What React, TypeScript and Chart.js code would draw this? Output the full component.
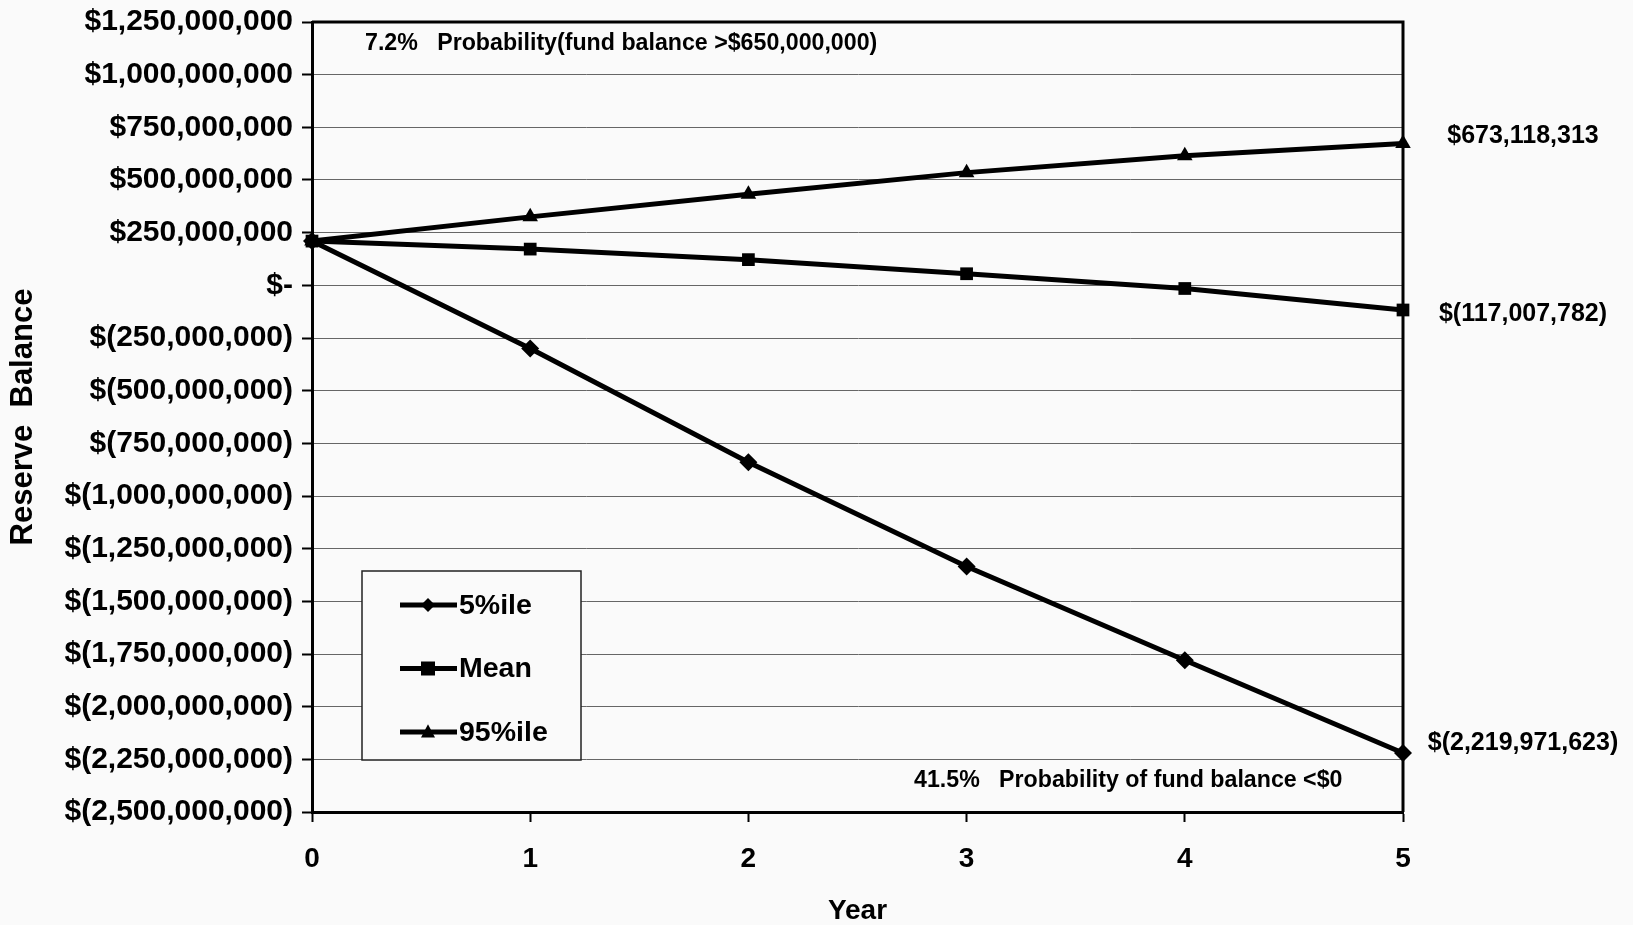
import React, { useEffect, useRef } from "react";
import { Chart, registerables } from "chart.js";

Chart.register(...registerables);

const years = [0, 1, 2, 3, 4, 5];
const p5Values = [210e6, -300e6, -840e6, -1335e6, -1780e6, -2219971623];
const meanValues = [210e6, 172e6, 122e6, 55e6, -15e6, -117007782];
const p95Values = [210e6, 325e6, 432e6, 535e6, 615e6, 673118313];
const seriesNames = ["5%ile", "Mean", "95%ile"];
const topNote = "7.2%   Probability(fund balance >$650,000,000)";
const bottomNote = "41.5%   Probability of fund balance <$0";
const yTitle = "Reserve  Balance";
const xTitle = "Year";

const FONT = "'Liberation Sans', Arial, sans-serif";

function fmt(v: number): string {
  if (Math.abs(v) < 1) return "$-";
  const s = Math.abs(Math.round(v)).toLocaleString("en-US");
  return v < 0 ? `$(${s})` : `$${s}`;
}

const styles = ["rectRot", "rect", "triangle"];

function drawMarker(ctx: CanvasRenderingContext2D, style: string, x: number, y: number, r: number) {
  ctx.beginPath();
  if (style === "rectRot") {
    ctx.moveTo(x, y - r);
    ctx.lineTo(x + r, y);
    ctx.lineTo(x, y + r);
    ctx.lineTo(x - r, y);
  } else if (style === "rect") {
    ctx.rect(x - r, y - r, 2 * r, 2 * r);
  } else {
    ctx.moveTo(x, y - r * 1.1);
    ctx.lineTo(x + r, y + r * 0.8);
    ctx.lineTo(x - r, y + r * 0.8);
  }
  ctx.closePath();
  ctx.fill();
}

const decorPlugin = {
  id: "decor",
  afterDraw(chart: any) {
    const { ctx, chartArea } = chart;
    const { left, right, top, bottom } = chartArea;
    ctx.save();
    // top & right frame
    ctx.strokeStyle = "#000";
    ctx.lineWidth = 3;
    ctx.beginPath();
    ctx.moveTo(left, top);
    ctx.lineTo(right, top);
    ctx.lineTo(right, bottom);
    ctx.stroke();

    // notes
    ctx.fillStyle = "#000";
    ctx.textBaseline = "middle";
    ctx.textAlign = "left";
    ctx.font = `bold 23.2px ${FONT}`;
    ctx.fillText(topNote, left + 53, top + 22);
    ctx.fillText(bottomNote, left + 602, bottom - 31);

    // end labels
    ctx.font = `bold 25px ${FONT}`;
    ctx.textAlign = "center";
    const offsets = [-10, 4, -7];
    chart.data.datasets.forEach((ds: any, i: number) => {
      const meta = chart.getDatasetMeta(i);
      const pt = meta.data[meta.data.length - 1];
      const v = ds.data[ds.data.length - 1].y;
      ctx.fillText(fmt(v), right + 120, pt.y + offsets[i]);
    });

    // legend box
    const lx = left + 50, ly = 571, lw = 219, lh = 189;
    ctx.fillStyle = "#fafafa";
    ctx.fillRect(lx, ly, lw, lh);
    ctx.strokeStyle = "#222";
    ctx.lineWidth = 1.5;
    ctx.strokeRect(lx, ly, lw, lh);
    ctx.font = `bold 28.5px ${FONT}`;
    ctx.textAlign = "left";
    seriesNames.forEach((name, i) => {
      const y = ly + 34 + i * 63.5;
      ctx.strokeStyle = "#000";
      ctx.lineWidth = 5;
      ctx.beginPath();
      ctx.moveTo(lx + 38, y);
      ctx.lineTo(lx + 95, y);
      ctx.stroke();
      ctx.fillStyle = "#000";
      drawMarker(ctx, styles[i], lx + 66, y, 7);
      ctx.fillText(name, lx + 97, y + 1);
    });
    ctx.restore();
  },
};

export default function App() {
  const ref = useRef<HTMLCanvasElement | null>(null);
  useEffect(() => {
    if (!ref.current) return;
    const mk = (vals: number[]) => years.map((x, i) => ({ x, y: vals[i] }));
    const allSeries = [p5Values, meanValues, p95Values];
    const chart = new Chart(ref.current, {
      type: "line",
      data: {
        datasets: allSeries.map((vals, i) => ({
          label: seriesNames[i],
          data: mk(vals),
          borderColor: "#000",
          backgroundColor: "#000",
          borderWidth: 5,
          pointStyle: styles[i] as any,
          pointRadius: 9,
          pointBorderWidth: 0,
          pointBackgroundColor: "#000",
          tension: 0,
          clip: false as any,
        })),
      },
      plugins: [decorPlugin],
      options: {
        animation: false,
        responsive: false,
        devicePixelRatio: 1,
        layout: { padding: { top: 22, right: 230, left: 0, bottom: 0 } },
        plugins: { legend: { display: false }, tooltip: { enabled: false } },
        scales: {
          x: {
            type: "linear",
            min: 0,
            max: 5,
            ticks: {
              stepSize: 1,
              color: "#000",
              padding: 20,
              font: { family: FONT, size: 28, weight: "bold" },
            },
            grid: {
              drawOnChartArea: false,
              drawTicks: true,
              tickLength: 10,
              tickColor: "#000",
              tickWidth: 2,
            },
            border: { color: "#000", width: 3 },
            title: {
              display: true,
              text: xTitle,
              color: "#000",
              padding: { top: 0, bottom: 0 },
              font: { family: FONT, size: 28, weight: "bold", lineHeight: 1.0 },
            },
            afterFit: (s: any) => {
              s.height = 113;
              s.paddingLeft = 0;
              s.paddingRight = 0;
            },
          },
          y: {
            type: "linear",
            min: -2.5e9,
            max: 1.25e9,
            ticks: {
              stepSize: 2.5e8,
              color: "#000",
              padding: 9,
              callback: (v: any) => fmt(Number(v)),
              font: { family: FONT, size: 30, weight: "bold" },
            },
            grid: {
              color: "#666",
              lineWidth: 1,
              tickLength: 10,
              tickColor: "#000",
              tickWidth: 2,
            },
            border: { color: "#000", width: 3 },
            title: {
              display: true,
              text: yTitle,
              color: "#000",
              padding: { top: 5, bottom: 0 },
              font: { family: FONT, size: 31, weight: "bold" },
            },
            afterFit: (s: any) => {
              s.width = 312;
              s.paddingTop = 0;
              s.paddingBottom = 0;
            },
          },
        },
      } as any,
    });
    return () => chart.destroy();
  }, []);
  return (
    <div style={{ position: "fixed", left: 0, top: 0, width: 1633, height: 925, background: "#fafafa" }}>
      <canvas ref={ref} width={1633} height={925} />
    </div>
  );
}
